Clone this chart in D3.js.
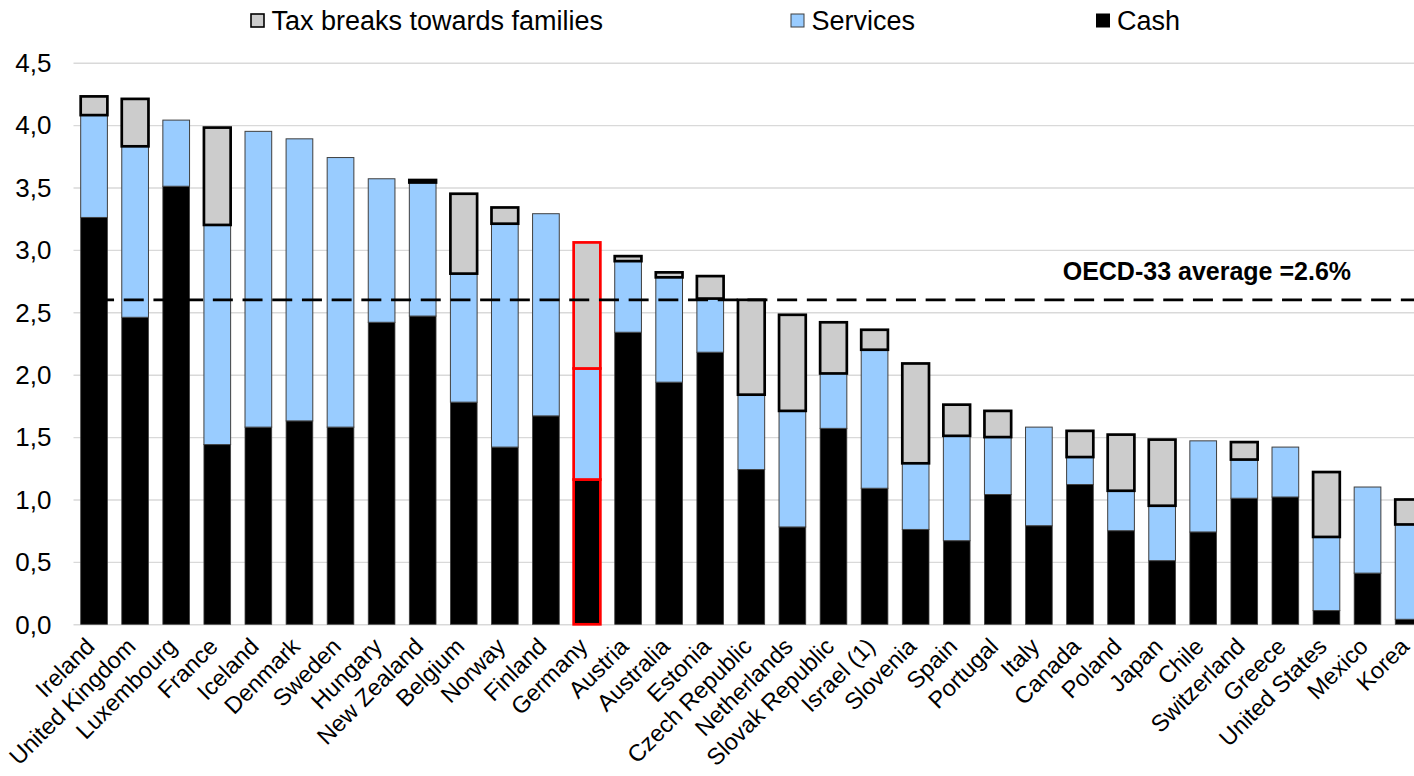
<!DOCTYPE html>
<html>
<head>
<meta charset="utf-8">
<script src="https://cdn.jsdelivr.net/npm/d3@7"></script>
<style>
  html, body { margin: 0; padding: 0; background: #fff; }
  svg { display: block; font-family: "Liberation Sans", Arial, sans-serif; }
</style>
</head>
<body>
<svg id="chart" width="1414" height="776"></svg>
<script>
// Public spending on family benefits, % of GDP, by type of spending
const categories = ["Ireland", "United Kingdom", "Luxembourg", "France", "Iceland", "Denmark", "Sweden",
  "Hungary", "New Zealand", "Belgium", "Norway", "Finland", "Germany", "Austria", "Australia", "Estonia",
  "Czech Republic", "Netherlands", "Slovak Republic", "Israel (1)", "Slovenia", "Spain", "Portugal", "Italy",
  "Canada", "Poland", "Japan", "Chile", "Switzerland", "Greece", "United States", "Mexico", "Korea"];

const cash = [3.26, 2.46, 3.51, 1.44, 1.58, 1.63, 1.58, 2.42, 2.47, 1.78, 1.42, 1.67, 1.16, 2.34, 1.94, 2.18,
  1.24, 0.78, 1.57, 1.09, 0.76, 0.67, 1.04, 0.79, 1.12, 0.75, 0.51, 0.74, 1.01, 1.02, 0.11, 0.41, 0.04];

const services = [0.82, 1.37, 0.53, 1.76, 2.37, 2.26, 2.16, 1.15, 1.07, 1.03, 1.79, 1.62, 0.89, 0.57, 0.84, 0.43,
  0.60, 0.93, 0.44, 1.11, 0.53, 0.84, 0.46, 0.79, 0.22, 0.32, 0.44, 0.73, 0.31, 0.40, 0.59, 0.69, 0.76];

const taxBreaks = [0.15, 0.38, 0.00, 0.78, 0.00, 0.00, 0.00, 0.00, 0.02, 0.64, 0.13, 0.00, 1.01, 0.04, 0.04, 0.18,
  0.76, 0.77, 0.41, 0.16, 0.80, 0.25, 0.21, 0.00, 0.21, 0.45, 0.53, 0.00, 0.14, 0.00, 0.52, 0.00, 0.20];

const yTicks = [0, 0.5, 1.0, 1.5, 2.0, 2.5, 3.0, 3.5, 4.0, 4.5];
const oecdAverage = 2.6;
const averageLabel = "OECD-33 average =2.6%";
const highlighted = "Germany";

const seriesKeys = ["cash", "services", "taxBreaks"];
const legendItems = [
  { key: "taxBreaks", label: "Tax breaks towards families" },
  { key: "services", label: "Services" },
  { key: "cash", label: "Cash" }
];

const styles = {
  cash:      { fill: "#000000", stroke: "#3f3f3f", width: 0.8 },
  services:  { fill: "#99CCFF", stroke: "#3f3f3f", width: 1.0 },
  taxBreaks: { fill: "#CCCCCC", stroke: "#000000", width: 2.7 }
};

const rows = categories.map((c, i) => ({ country: c, cash: cash[i], services: services[i], taxBreaks: taxBreaks[i] }));
const stacked = d3.stack().keys(seriesKeys)(rows);

const svg = d3.select("#chart");
const plotLeft = 73.5, step = 41.08;
const plotRight = plotLeft + step * categories.length;
const plotBottom = 624.3, plotTop = 62.7;

const x = d3.scaleBand().domain(categories).range([plotLeft, plotRight]).paddingInner(0.35).paddingOuter(0.175);
const y = d3.scaleLinear().domain([0, 4.5]).range([plotBottom, plotTop]);

const locale = d3.formatLocale({ decimal: ",", thousands: ".", grouping: [3], currency: ["", ""] });
const fmt = locale.format(".1f");

// Gridlines and value axis
const yAxis = svg.append("g")
  .attr("transform", `translate(${plotLeft},0)`)
  .call(d3.axisLeft(y).tickValues(yTicks).tickFormat(fmt).tickSize(-(plotRight - plotLeft)).tickPadding(22));
yAxis.select(".domain").remove();
yAxis.selectAll(".tick line").attr("stroke", "#D9D9D9").attr("stroke-width", 1.4);
yAxis.selectAll(".tick text")
  .attr("fill", "#000").style("font-size", "26px").attr("dy", "0.34em");

// Category labels
svg.append("g").selectAll("text")
  .data(categories).join("text")
  .attr("transform", d => `translate(${x(d) + x.bandwidth() / 2 + 2},648) rotate(-45)`)
  .attr("text-anchor", "end")
  .style("font-size", "23.5px")
  .attr("fill", "#000")
  .text(d => d);

// Stacked bars
const barLayer = svg.append("g");
stacked.forEach(layer => {
  const st = styles[layer.key];
  barLayer.append("g").selectAll("rect")
    .data(layer.filter(d => d[1] - d[0] > 0 && d.data.country !== highlighted)).join("rect")
    .attr("x", d => x(d.data.country))
    .attr("width", x.bandwidth())
    .attr("y", d => y(d[1]))
    .attr("height", d => y(d[0]) - y(d[1]))
    .attr("fill", st.fill)
    .attr("stroke", st.stroke)
    .attr("stroke-width", st.width);
});

// Highlighted country, outlined in red
stacked.forEach(layer => {
  const st = styles[layer.key];
  barLayer.append("g").selectAll("rect")
    .data(layer.filter(d => d[1] - d[0] > 0 && d.data.country === highlighted)).join("rect")
    .attr("x", d => x(d.data.country))
    .attr("width", x.bandwidth())
    .attr("y", d => y(d[1]))
    .attr("height", d => y(d[0]) - y(d[1]))
    .attr("fill", st.fill)
    .attr("stroke", "#FF0000")
    .attr("stroke-width", 2.7);
});

// OECD average reference line
svg.append("line")
  .attr("x1", x(categories[0]) + x.bandwidth() / 2)
  .attr("x2", plotRight)
  .attr("y1", y(oecdAverage)).attr("y2", y(oecdAverage))
  .attr("stroke", "#000")
  .attr("stroke-width", 2.7)
  .attr("stroke-dasharray", "20,9.7");

svg.append("text")
  .attr("x", 1062.7)
  .attr("y", 280)
  .style("font-size", "25px")
  .style("font-weight", "bold")
  .attr("fill", "#000")
  .text(averageLabel);

// Legend
const legendX = { taxBreaks: 251, services: 791, cash: 1096.5 };
const legend = svg.append("g");
legendItems.forEach(item => {
  const st = styles[item.key];
  const g = legend.append("g").attr("transform", `translate(${legendX[item.key]},14)`);
  g.append("rect")
    .attr("width", 13).attr("height", 13)
    .attr("fill", st.fill)
    .attr("stroke", item.key === "services" ? "#3f3f3f" : "#000")
    .attr("stroke-width", item.key === "taxBreaks" ? 1.6 : 1);
  g.append("text")
    .attr("x", 20.5).attr("y", 15.5)
    .style("font-size", "27px")
    .attr("fill", "#000")
    .text(item.label);
});
</script>
</body>
</html>
